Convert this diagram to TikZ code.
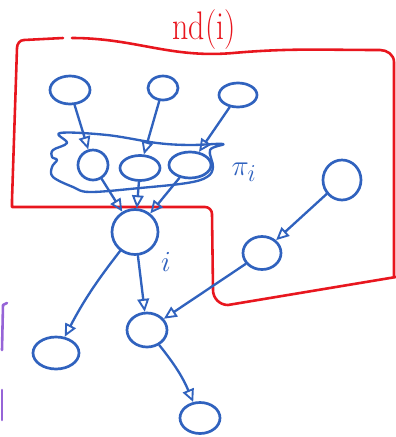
\documentclass[tikz,border=0pt]{standalone}
\usepackage{amsmath,amssymb}
\usepackage{tikz}
\usetikzlibrary{arrows.meta,shapes.geometric}

\definecolor{inkblue}{RGB}{48,98,190}
\definecolor{inkred}{RGB}{232,22,30}
\definecolor{inkpurple}{RGB}{150,100,215}

\tikzset{
  blob/.style={ellipse,draw=inkblue,line width=2.3pt,inner sep=0pt},
  edge/.style={draw=inkblue,line width=2pt,-{Triangle[open,length=11pt,width=10pt,line width=1.6pt]}},
}

\begin{document}
\begin{tikzpicture}[x=0.03cm,y=-0.03cm,line cap=round,line join=round]
  \useasboundingbox (0,0) rectangle (396,437);

  % plate nd(i)
  \draw[inkred,line width=2.2pt] (63,38) -- (24,40) to[out=180,in=90] (17,48)
    -- (12,200) -- (12,207) -- (205,207) to[out=0,in=90] (212,214)
    -- (213,290) to[out=-90,in=180] (228,305) -- (396,277);
  \draw[inkred,line width=2.2pt] (72,38) to[out=0,in=185] (233,53)
    to[out=5,in=180] (380,50) to[out=0,in=90] (394,62) -- (394,277);
  \node[inkred,font=\fontsize{34}{34}\selectfont,xscale=0.8] (plate) at (204,30) {nd(i)};

  % cloud pi_i
  \draw[inkblue,line width=2pt] plot[smooth cycle,tension=0.6] coordinates {
    (60,133) (107,135) (157,143) (190,145) (223,144) (210,150) (213,167)
    (207,177) (187,183) (140,188) (90,192) (73,187) (53,177) (52,167)
    (57,160) (52,157) (53,150) (67,143)};
  \node[inkblue,font=\fontsize{30}{30}\selectfont] (pilab) at (244,172) {$\pi_i$};

  % parents
  \node[blob,minimum width=1.2cm,minimum height=0.84cm] (a1) at (70,90) {};
  \node[blob,minimum width=0.9cm,minimum height=0.72cm] (a2) at (163,88) {};
  \node[blob,minimum width=1.14cm,minimum height=0.72cm] (a3) at (238,95) {};

  % members of pi_i
  \node[blob,minimum width=0.9cm,minimum height=0.9cm] (b1) at (93,165) {};
  \node[blob,minimum width=1.2cm,minimum height=0.75cm] (b2) at (140,168) {};
  \node[blob,minimum width=1.26cm,minimum height=0.78cm] (b3) at (190,165) {};

  % node i and the rest
  \node[blob,minimum width=1.38cm,minimum height=1.35cm] (ni) at (135,232) {};
  \node[inkblue,font=\fontsize{32}{32}\selectfont] (ilab) at (166,262) {$i$};
  \node[blob,minimum width=1.14cm,minimum height=1.2cm] (c1) at (342,180) {};
  \node[blob,minimum width=1.14cm,minimum height=0.99cm] (c2) at (262,253) {};
  \node[blob,minimum width=1.2cm,minimum height=1.02cm] (d) at (147,330) {};
  \node[blob,minimum width=1.38cm,minimum height=0.96cm] (e) at (56,353) {};
  \node[blob,minimum width=1.2cm,minimum height=0.93cm] (f) at (200,418) {};

  \draw[edge] (a1) -- (b1);
  \draw[edge] (a2) -- (b2);
  \draw[edge] (a3) -- (b3);
  \draw[edge] (b1) -- (ni);
  \draw[edge] (b2) -- (ni);
  \draw[edge] (b3) -- (ni);
  \draw[edge] (c1) -- (c2);
  \draw[edge] (c2) -- (d);
  \draw[edge] (ni) -- (d);
  \draw[edge] (ni) to[bend right=5] (e);
  \draw[edge] (d) to[bend left=8] (f);

  % purple mark at the left
  \draw[inkpurple,line width=2.2pt] (7,303) -- (3,305) -- (2,350);
  \draw[inkpurple,line width=2.2pt] (2,390) -- (2,420);
\end{tikzpicture}
\end{document}
